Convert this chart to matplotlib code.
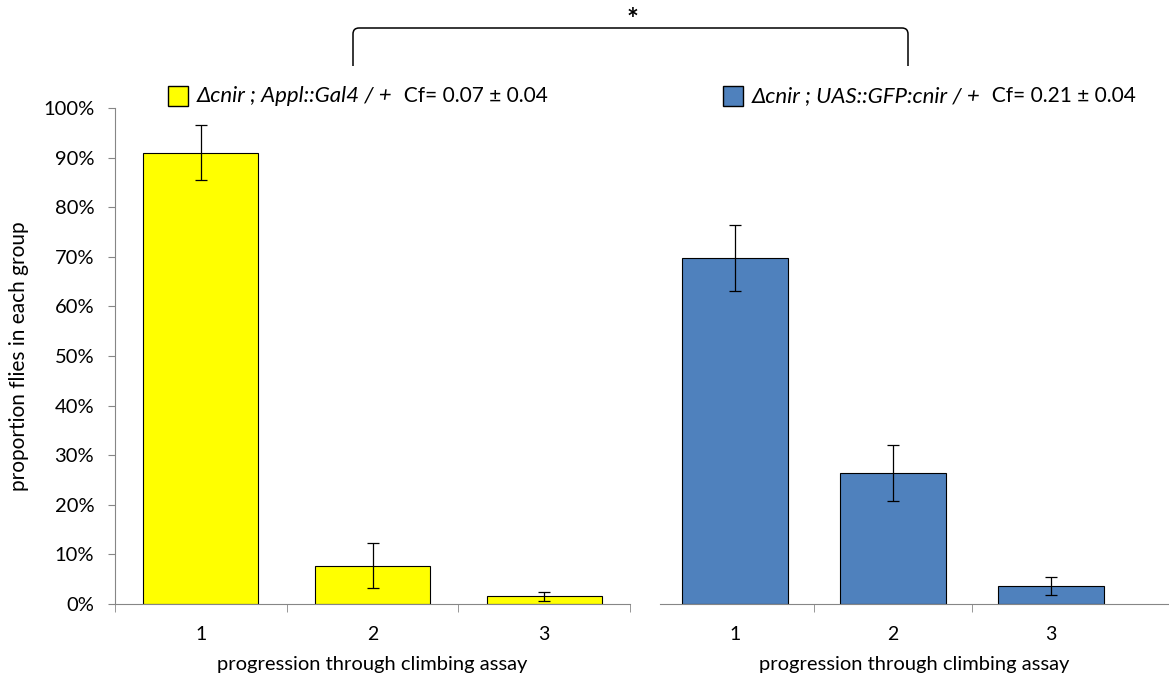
import numpy as np
import matplotlib
matplotlib.use("Agg")
import matplotlib.pyplot as plt
from matplotlib.path import Path
from matplotlib.patches import PathPatch, Rectangle

plt.rcParams['font.family'] = ['Lato', 'DejaVu Sans']

# data
stages = ["1", "2", "3"]
ctrl_vals = [0.91, 0.077, 0.016]
ctrl_err = [0.055, 0.045, 0.009]
rescue_vals = [0.698, 0.264, 0.036]
rescue_err = [0.066, 0.057, 0.018]
ctrl_label = "Δcnir ; Appl::Gal4 / +"
rescue_label = "Δcnir ; UAS::GFP:cnir / +"
ctrl_cf = "Cf= 0.07 ± 0.04"
rescue_cf = "Cf= 0.21 ± 0.04"

W, H = 1169, 679
fig = plt.figure(figsize=(W / 100, H / 100), dpi=100)

def px(x0, y0, x1, y1):
    # pixel box -> figure fraction rect
    return [x0 / W, 1 - y1 / H, (x1 - x0) / W, (y1 - y0) / H]

grey = "#868686"
ax1 = fig.add_axes(px(115, 108, 630, 604))
ax2 = fig.add_axes(px(660, 108, 1169, 604))

x = np.arange(1, 4)
ax1.bar(x, ctrl_vals, width=0.67, color="#FFFF00", edgecolor="black", linewidth=0.8)
ax1.errorbar(x, ctrl_vals, yerr=ctrl_err, fmt="none", ecolor="black", elinewidth=0.9, capsize=4, capthick=0.9)
ax2.bar(x, rescue_vals, width=0.67, color="#4F81BD", edgecolor="black", linewidth=0.8)
ax2.errorbar(x, rescue_vals, yerr=rescue_err, fmt="none", ecolor="black", elinewidth=0.9, capsize=4, capthick=0.9)

for ax in (ax1, ax2):
    ax.set_ylim(0, 1.0)
    for s in ("top", "right"):
        ax.spines[s].set_visible(False)
    ax.spines["bottom"].set_color(grey)
    ax.set_xticks(x)
    ax.set_xticklabels(stages, fontsize=14)
    ax.tick_params(axis="x", length=0, pad=16)
    ax.set_xlabel("progression through climbing assay", fontsize=14.5, labelpad=9)

ax1.set_xlim(0.5, 3.5)
ax2.set_xlim(0.525, 3.747)
# category boundary ticks
ax1.set_xticks([0.5, 1.5, 2.5, 3.5], minor=True)
ax2.set_xticks([1.5, 2.5], minor=True)
for ax in (ax1, ax2):
    ax.tick_params(axis="x", which="minor", length=6, color=grey, direction="out")

ax1.spines["left"].set_color(grey)
ax1.set_yticks(np.arange(0, 1.01, 0.1))
ax1.set_yticklabels([f"{int(round(v * 100))}%" for v in np.arange(0, 1.01, 0.1)], fontsize=14.5)
ax1.tick_params(axis="y", length=5, color=grey, pad=10)
ax1.set_ylabel("proportion flies in each group", fontsize=15, labelpad=10)

ax2.spines["left"].set_visible(False)
ax2.set_yticks([])

# legend entries drawn above each panel
def legend_entry(bx, color, label, cf):
    fig.add_artist(Rectangle((bx / W, 1 - 106 / H), 20 / W, 20 / H, transform=fig.transFigure,
                             facecolor=color, edgecolor="black", linewidth=1))
    t = fig.text((bx + 29) / W, 1 - 96 / H, label, fontsize=16, style="italic", va="center")
    fig.canvas.draw()
    plt.annotate("  " + cf, xy=(1, 0.5), xycoords=t, va="center", ha="left", fontsize=15)

legend_entry(168, "#FFFF00", ctrl_label, ctrl_cf)
legend_entry(723, "#4F81BD", rescue_label, rescue_cf)

# significance bracket
xl, xr, yt, yb, r = 353, 908, 28, 66, 6
pts = [(xl, yb), (xl, yt + r), (xl, yt), (xl + r, yt), (xr - r, yt), (xr, yt), (xr, yt + r), (xr, yb)]
codes = [Path.MOVETO, Path.LINETO, Path.CURVE3, Path.CURVE3, Path.LINETO, Path.CURVE3, Path.CURVE3, Path.LINETO]
verts = [(a / W, 1 - b / H) for a, b in pts]
fig.add_artist(PathPatch(Path(verts, codes), transform=fig.transFigure, fill=False, edgecolor="black", linewidth=1.1))
fig.text(632 / W, 1 - 20 / H, "*", fontsize=20, fontweight="bold", ha="center", va="center")

fig.savefig("out.png", dpi=100)
